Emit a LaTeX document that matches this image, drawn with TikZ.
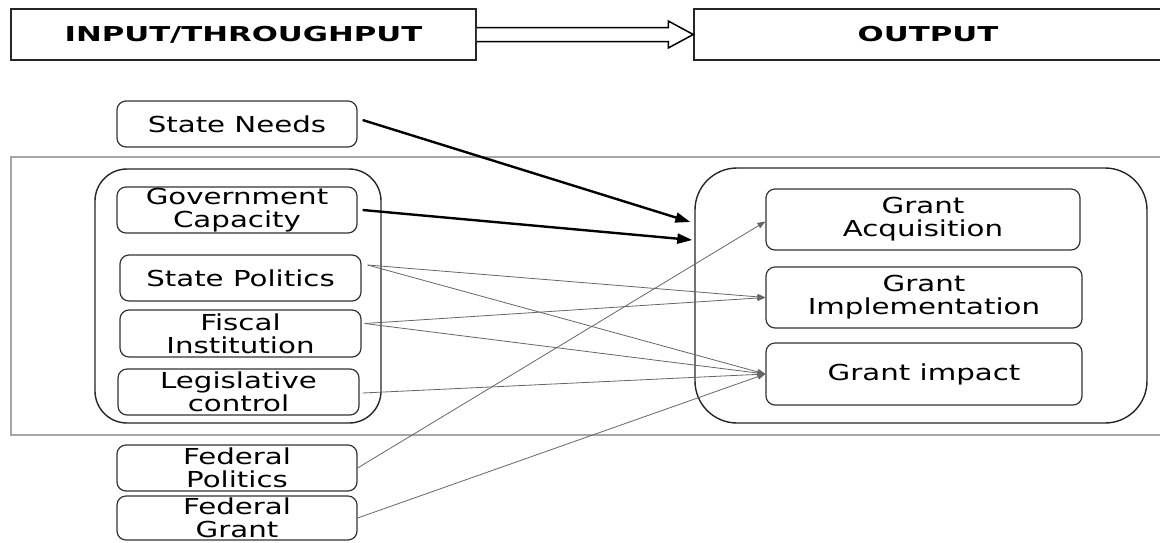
\documentclass[tikz,border=0pt]{standalone}
\usepackage{fontspec}
\newfontfamily\df[FakeStretch=1.33]{DejaVu Sans}
\newfontfamily\dfb[FakeStretch=1.5]{DejaVu Sans}
\usetikzlibrary{arrows.meta,calc}
\begin{document}
\begin{tikzpicture}[x=1pt,y=-1pt,
  box/.style={draw=black!80,line width=1.2pt,rounded corners=9pt,inner sep=0pt,align=center,
    font={\df\fontsize{22}{23}\selectfont}},
  hdr/.style={draw=black!85,line width=1.5pt,inner sep=0pt,align=center,
    font={\dfb\bfseries\fontsize{20.5}{24}\selectfont}},
  container/.style={draw=black!85,line width=1.4pt,inner sep=0pt},
  thickarrow/.style={draw=black,line width=2.4pt,-{Triangle[length=15pt,width=10pt]}},
  thinarrow/.style={draw=black!60,line width=0.8pt,-{Triangle[length=8pt,width=6pt]}},
  frame/.style={draw=black!35,line width=2pt}]
\useasboundingbox (0,0) rectangle (1160,542);
% headers
\node[hdr,minimum width=465pt,minimum height=51pt] (in) at (243.5,34.5) {INPUT/THROUGHPUT};
\node[hdr,minimum width=468pt,minimum height=51pt] (out) at (928,34.5) {OUTPUT};
\draw[line width=1.5pt,fill=white,line join=miter]
  ($(in.east)+(0,-7)$) -- ($(out.west)+(-25,-7)$) -- ($(out.west)+(-25,-13.5)$) -- (out.west)
  -- ($(out.west)+(-25,13.5)$) -- ($(out.west)+(-25,7)$) -- ($(in.east)+(0,7)$);
% frame
\draw[frame] (1160,157) -- (11,157) -- (11,435) -- (1160,435);
% containers
\node[container,rounded corners=32pt,minimum width=286pt,minimum height=254pt] (lc0) at (238,296) {};
\node[container,rounded corners=42pt,minimum width=452pt,minimum height=255pt] (rc) at (921,295.5) {};
% left boxes
\node[box,minimum width=240pt,minimum height=46pt] (sn) at (237,124) {State Needs};
\node[box,minimum width=240pt,minimum height=46pt] (gc) at (237,210) {Government\\Capacity};
\node[box,minimum width=241pt,minimum height=46pt] (sp) at (240.5,278) {State Politics};
\node[box,minimum width=241pt,minimum height=47pt] (fi) at (240.5,333.5) {Fiscal\\Institution};
\node[box,minimum width=241pt,minimum height=46pt] (lc) at (238.5,392) {Legislative\\control};
\node[box,minimum width=240pt,minimum height=46pt] (fp) at (237,468) {Federal\\Politics};
\node[box,minimum width=240pt,minimum height=44pt] (fg) at (237,518) {Federal\\Grant};
% right boxes
\node[box,minimum width=314pt,minimum height=61pt] (ga) at (923,219.5) {Grant\\Acquisition};
\node[box,minimum width=316pt,minimum height=61pt] (gi) at (924,297.5) {Grant\\Implementation};
\node[box,minimum width=316pt,minimum height=62pt] (gim) at (924,374) {Grant impact};
% thick arrows
\coordinate (t1) at ($(rc.west)+(-4,-73.5)$);
\coordinate (t2) at ($(rc.west)+(-2,-55.5)$);
\draw[thickarrow] ($(sn.east)+(5,-4)$) -- (t1);
\draw[thickarrow] ($(gc.east)+(5,0)$) -- (t2);
% thin arrows
\draw[thinarrow] ($(sp.east)+(6,-13)$) -- (gi.west);
\draw[thinarrow] ($(sp.east)+(6,-13)$) -- (gim.west);
\draw[thinarrow] ($(fi.east)+(3,-10)$) -- (gi.west);
\draw[thinarrow] ($(fi.east)+(3,-10)$) -- (gim.west);
\draw[thinarrow] ($(lc.east)+(3,1)$) -- (gim.west);
\draw[thinarrow] (fp.east) -- ($(ga.west)+(0,2)$);
\draw[thinarrow] (fg.east) -- (gim.west);
\end{tikzpicture}
\end{document}
